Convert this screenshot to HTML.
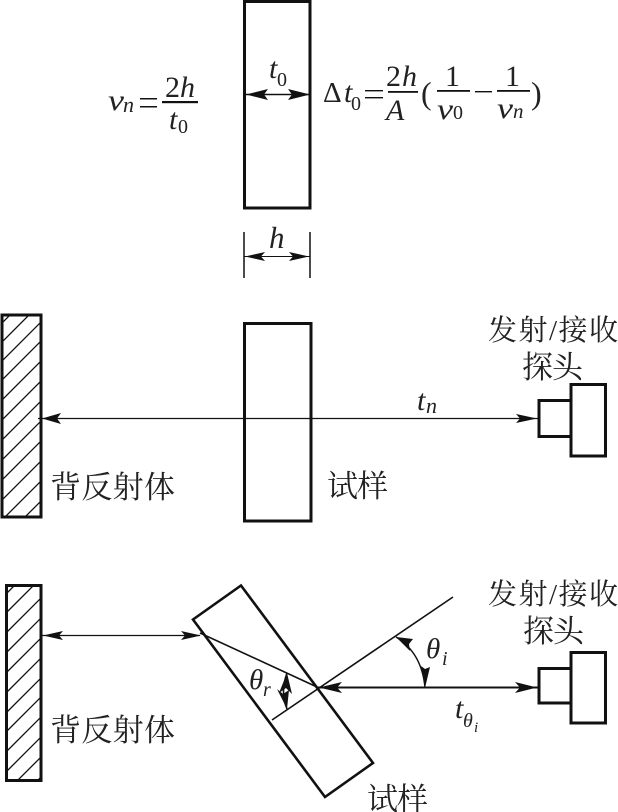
<!DOCTYPE html>
<html><head><meta charset="utf-8">
<style>
html,body{margin:0;padding:0;background:#fff;width:618px;height:812px;overflow:hidden}
svg{display:block}
.m{font-family:"Liberation Serif",serif;font-style:italic;fill:#222}
.r{font-family:"Liberation Serif",serif;fill:#222}
.c{font-family:"Liberation Serif","Noto Serif CJK SC",serif;fill:#222;font-size:31px}
.d{font-family:"Liberation Serif","Noto Serif CJK SC",serif;fill:#222;font-size:29px}
</style></head><body>
<svg width="618" height="812" viewBox="0 0 618 812" xmlns="http://www.w3.org/2000/svg">
<defs>
<clipPath id="h1"><rect x="2" y="314" width="39" height="203"/></clipPath>
<clipPath id="h2"><rect x="6" y="585" width="35" height="195"/></clipPath>
</defs>
<g fill="none" stroke="#111">
<!-- top -->
<rect x="244.5" y="1.5" width="65.5" height="206.5" stroke-width="3"/>
<line x1="246" y1="94.5" x2="311" y2="94.5" stroke-width="1.5"/>
<line x1="244" y1="232" x2="244" y2="278" stroke-width="1.5"/>
<line x1="310" y1="232" x2="310" y2="278" stroke-width="1.5"/>
<line x1="244" y1="256.5" x2="310" y2="256.5" stroke-width="1"/>
<!-- middle -->
<g clip-path="url(#h1)" stroke-width="1.3">
<path d="M2,323 l50,-50 M2,342 l50,-50 M2,361 l50,-50 M2,380 l50,-50 M2,400 l50,-50 M2,420 l50,-50 M2,440 l50,-50 M2,460 l50,-50 M2,480 l50,-50 M2,500 l50,-50 M2,520 l50,-50 M2,540 l50,-50"/>
</g>
<rect x="2" y="315" width="39" height="202" stroke-width="3"/>
<rect x="244.5" y="323.5" width="66.5" height="197.5" stroke-width="3"/>
<line x1="38" y1="418.5" x2="538" y2="418.5" stroke-width="1.2"/>
<rect x="539" y="400.5" width="32" height="36" stroke-width="3"/>
<rect x="571" y="384.5" width="34.5" height="71.5" stroke-width="3"/>
<!-- bottom -->
<g clip-path="url(#h2)" stroke-width="1.3">
<path d="M7,593 l50,-50 M7,612 l50,-50 M7,632 l50,-50 M7,652 l50,-50 M7,672 l50,-50 M7,692 l50,-50 M7,712 l50,-50 M7,731 l50,-50 M7,751 l50,-50 M7,771 l50,-50 M7,791 l50,-50 M7,811 l50,-50"/>
</g>
<rect x="6.5" y="585.5" width="34.5" height="195" stroke-width="3"/>
<polygon points="193,619.5 241,585.5 373,763 325,797" stroke-width="2.6"/>
<line x1="42" y1="635.5" x2="200" y2="635.5" stroke-width="1.3"/>
<line x1="200" y1="633" x2="317" y2="687" stroke-width="1.6"/>
<line x1="272" y1="720" x2="453" y2="597" stroke-width="1.6"/>
<line x1="317" y1="687.5" x2="538" y2="687.5" stroke-width="2"/>
<rect x="539" y="668.5" width="32" height="34.5" stroke-width="3"/>
<rect x="571" y="652.5" width="34.5" height="70.5" stroke-width="3"/>
<path d="M396,637 Q422,653 425,688" stroke-width="1.4"/>
<path d="M287,673 Q280,692 287,709" stroke-width="1.6"/>
</g>
<g fill="#111">
<!-- arrowheads -->
<path d="M246,94.5 L268,89 L264,94.5 L268,100Z M310,94.5 L288,89 L292,94.5 L288,100Z"/>
<path d="M245,256.5 L265,252 L261,256.5 L265,261Z M309,256.5 L289,252 L293,256.5 L289,261Z"/>
<path d="M42,418.5 L61,413 L57,418.5 L61,424Z M537,418.5 L516,414 L520,418.5 L516,423Z"/>
<path d="M43,635.5 L63,631 L59,635.5 L63,640Z M201,635.5 L181,631 L185,635.5 L181,640Z"/>
<path d="M319,687.5 L342,682 L337,687.5 L342,693Z M537,687.5 L515,682 L520,687.5 L515,693Z"/>
<path d="M396,637 L413,639 L409,644 L410,651Z M425,688 L421,666 L425,669 L430,667Z"/>
<path d="M287,673 L292,694 L286,688 L279,693Z M287,709 L277,689 L283,694 L289,690Z"/>
<!-- fraction bars and operators -->
<rect x="162" y="101" width="36" height="2.2"/>
<rect x="388" y="91" width="30" height="1.8"/>
<rect x="437" y="90" width="33" height="1.8"/>
<rect x="497" y="90" width="33" height="1.8"/>
<rect x="475" y="91" width="17" height="1.4"/>
<rect x="140" y="98" width="17" height="1.5"/>
<rect x="140" y="106" width="17" height="1.5"/>
<rect x="365" y="90" width="18" height="1.4"/>
<rect x="365" y="97" width="18" height="1.4"/>
</g>
<!-- formulas -->
<text class="m" x="108" y="110" font-size="30" textLength="16" lengthAdjust="spacingAndGlyphs">v</text>
<text class="m" x="123" y="112" font-size="22">n</text>
<text class="r" x="165" y="97" font-size="30">2</text>
<text class="m" x="180" y="97" font-size="30">h</text>
<text class="m" x="169" y="129" font-size="30">t</text>
<text class="r" x="178" y="133" font-size="20">0</text>
<text class="m" x="269" y="78" font-size="30">t</text>
<text class="r" x="277" y="86" font-size="20">0</text>
<text class="m" x="269" y="248" font-size="31">h</text>
<text class="r" x="323" y="102" font-size="29">Δ</text>
<text class="m" x="344" y="102" font-size="30">t</text>
<text class="r" x="351" y="110" font-size="20">0</text>
<text class="r" x="386" y="86" font-size="30">2</text>
<text class="m" x="402" y="86" font-size="30">h</text>
<text class="m" x="386" y="120" font-size="30">A</text>
<text class="r" x="421" y="104" font-size="32">(</text>
<text class="r" x="445" y="86" font-size="30">1</text>
<text class="m" x="437" y="119" font-size="30" textLength="16" lengthAdjust="spacingAndGlyphs">v</text>
<text class="r" x="453" y="119" font-size="20">0</text>
<text class="r" x="505" y="86" font-size="30">1</text>
<text class="m" x="497" y="118" font-size="30" textLength="16" lengthAdjust="spacingAndGlyphs">v</text>
<text class="m" x="513" y="118" font-size="21">n</text>
<text class="r" x="531" y="104" font-size="32">)</text>
<text class="m" x="417" y="410" font-size="30">t</text>
<text class="m" x="426" y="413" font-size="22">n</text>
<text class="m" x="249" y="689" font-size="29">θ</text>
<text class="m" x="263" y="696" font-size="20">r</text>
<text class="m" x="426" y="658" font-size="29">θ</text>
<text class="m" x="442" y="665" font-size="20">i</text>
<text class="m" x="455" y="718" font-size="30">t</text>
<text class="m" x="463" y="727" font-size="20">θ</text>
<text class="m" x="474" y="732" font-size="15">i</text>
<!-- Chinese labels -->
<text class="c" x="50" y="498" textLength="125" lengthAdjust="spacing">背反射体</text>
<text class="c" x="327" y="497" textLength="61" lengthAdjust="spacing">试样</text>
<text class="d" x="488" y="340" textLength="130" lengthAdjust="spacing">发射/接收</text>
<text class="c" x="522" y="378" textLength="61" lengthAdjust="spacing">探头</text>
<text class="c" x="50" y="741" textLength="125" lengthAdjust="spacing">背反射体</text>
<text class="c" x="367" y="810" textLength="61" lengthAdjust="spacing">试样</text>
<text class="d" x="488" y="604" textLength="130" lengthAdjust="spacing">发射/接收</text>
<text class="c" x="523" y="642" textLength="61" lengthAdjust="spacing">探头</text>
</svg>
</body></html>
